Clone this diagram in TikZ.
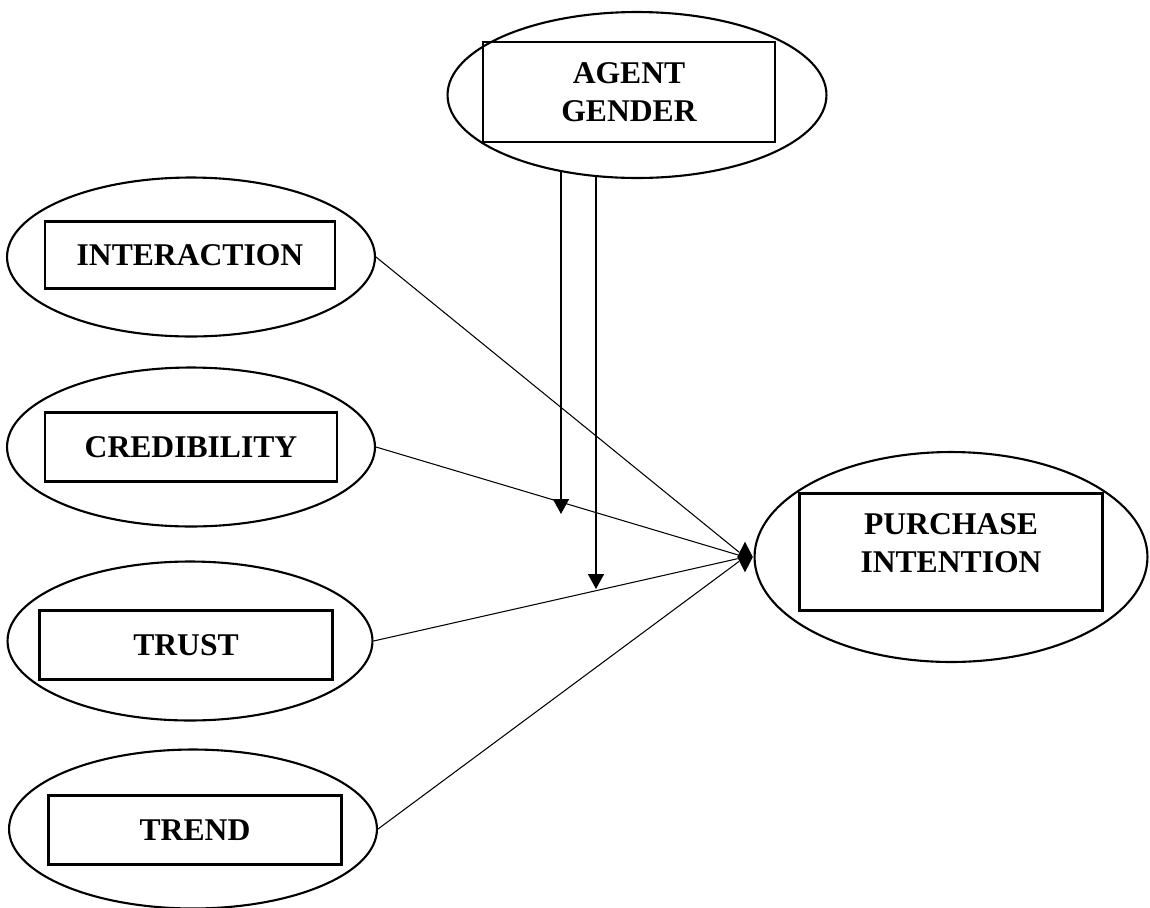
\documentclass[tikz,border=0pt]{standalone}
\usepackage{fontspec}
\setmainfont{Liberation Serif}
\usepackage{tikz}
\usetikzlibrary{arrows.meta, shapes.geometric, positioning}

\begin{document}
\begin{tikzpicture}[x=0.02cm,y=-0.02cm,
    factor/.style={ellipse,draw,line width=1.2pt,inner sep=0pt,minimum width=7.36cm,minimum height=3.18cm},
    varbox/.style={rectangle,draw,line width=1.2pt,inner sep=0pt,minimum width=5.84cm,minimum height=1.38cm,
        align=center,font=\bfseries\fontsize{18}{21.6}\selectfont},
    link/.style={line width=0.6pt},
    modarrow/.style={line width=0.9pt,-{Triangle[length=0.3cm,width=0.32cm]}}]
    \useasboundingbox (0,0) rectangle (1150,907);
        \node[factor] (inter) at (191,257) {}; %interaction
        \node[varbox,minimum width=5.8cm,minimum height=1.34cm] (interbox) at (190,255) {INTERACTION};
        \node[factor] (cred) at (191,447) {}; %credibility
        \node[varbox] (credbox) at (191,447) {CREDIBILITY};
        \node[factor,minimum width=7.3cm] (trust) at (190,641) {}; %trust
        \node[varbox,minimum width=5.86cm] (trustbox) at (186,645) {TRUST};
        \node[factor] (trend) at (193,829) {}; %trend
        \node[varbox,minimum width=5.86cm] (trendbox) at (195,830) {TREND};
        \node[factor,minimum width=7.58cm,minimum height=3.32cm] (ag) at (637,95) {}; %agent gender
        \node[varbox,minimum height=2cm] (agbox) at (629,92) {AGENT\\GENDER};
        \node[factor,minimum width=7.86cm,minimum height=4.2cm] (pi) at (951,557) {}; %purchase intention
        \node[varbox,minimum width=6.06cm,minimum height=2.34cm] (pibox) at (951,552) {};
        \node[align=center,inner sep=0pt,font=\bfseries\fontsize{18}{21.6}\selectfont] (pitext) at (951,543) {PURCHASE\\INTENTION};
        \node[diamond,fill,inner sep=0pt,minimum width=0.32cm,minimum height=0.62cm,shape aspect=0.5] (hub) at (745,557) {};
        \draw[link] (inter.east) -- (hub);
        \draw[link] (cred.east) -- (hub);
        \draw[link] (trust.east) -- (hub);
        \draw[link] (trend.east) -- (hub);
        \coordinate (g1) at (561,514);
        \coordinate (g2) at (596,589);
        \draw[modarrow] (g1 |- ag.225) -- (g1); %moderation
        \draw[modarrow] (g2 |- ag.243) -- (g2);
    \end{tikzpicture}
\end{document}
